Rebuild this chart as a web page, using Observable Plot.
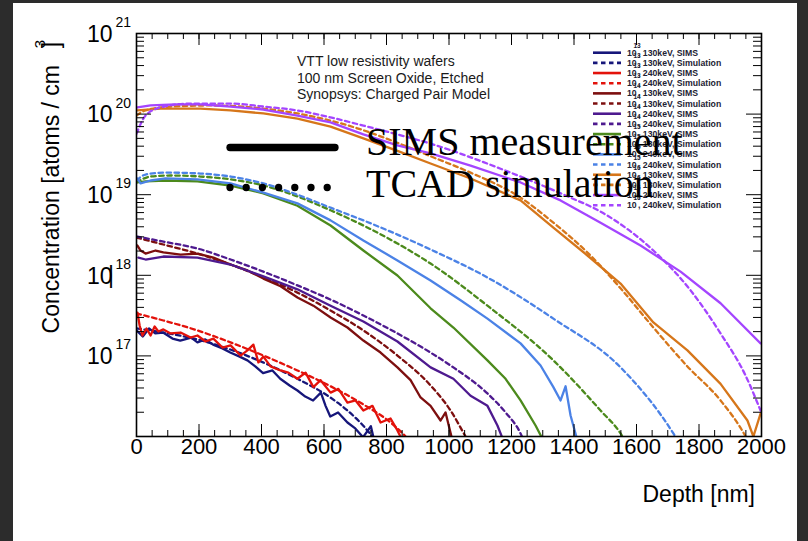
<!DOCTYPE html>
<html><head><meta charset="utf-8">
<script src="https://cdn.jsdelivr.net/npm/d3@7"></script>
<script src="https://cdn.jsdelivr.net/npm/@observablehq/plot@0.6"></script>
<style>
html,body{margin:0;padding:0;background:#fff;width:808px;height:541px;overflow:hidden;}
#wrap{position:relative;width:808px;height:541px;}
.edge{position:absolute;background:#2c2c2c;}
</style></head><body><div id="wrap"></div>
<script>
// ---- data (depth in nm, concentration in atoms/cm^3) ----
const navySimsDepth = [0,20,40,60,85,115,140,175,195,220,245,275,300,330,355,380,405,435,460,490,515,540,565,590,605,620,645,675,700,725,750,765];
const navySimsConc  = [2.07e17,1.74e17,2.19e17,1.9e17,1.95e17,1.64e17,1.55e17,1.69e17,1.47e17,1.6e17,1.38e17,1.24e17,1.1e17,9.8e16,8.8e16,7.4e16,6.1e16,6.6e16,5.2e16,4.3e16,3.72e16,3.13e16,2.8e16,3.5e16,2.4e16,1.77e16,1.99e16,1.49e16,1.26e16,9.8e15,1.34e16,7.5e15];
const navySimDepth = [0,85,195,300,405,515,620,675,725,765];
const navySimConc  = [2.19e17,1.95e17,1.6e17,1.2e17,8.3e16,5.2e16,3.05e16,2.1e16,1.37e16,8.9e15];

const redSimsDepth = [3,10,19,32,45,58,70,86,109,141,173,195,221,246,275,301,333,355,374,390,406,429,461,486,515,541,566,589,621,646,675,701,726,755,781,813,835,851];
const redSimsConc  = [3.45e17,2.38e17,1.79e17,2.19e17,1.79e17,2.32e17,2.01e17,2.13e17,1.9e17,1.95e17,1.69e17,1.79e17,1.51e17,1.64e17,1.27e17,1.35e17,1.01e17,1.17e17,1.38e17,8.3e16,9.8e16,7.4e16,6.6e16,6.2e16,5.2e16,6.2e16,4.1e16,5.0e16,3.5e16,3.9e16,2.64e16,2.8e16,2.1e16,2.4e16,1.49e16,1.67e16,1.19e16,8.9e15];
const redSimDepth = [0,86,195,301,406,515,621,726,813,861,877];
const redSimConc  = [3.36e17,2.75e17,2.07e17,1.47e17,1.01e17,6.6e16,4.2e16,2.5e16,1.49e16,1e16,8.5e15];

const maroonSimsDepth = [3,13,29,61,86,141,195,246,301,355,406,461,515,566,621,675,726,781,835,877,909,941,973,989,1011];
const maroonSimsConc  = [2.34e18,2.03e18,1.86e18,2.03e18,1.92e18,1.81e18,1.86e18,1.66e18,1.36e18,1.15e18,9.1e17,7.3e17,5.3e17,4.2e17,3.0e17,2.25e17,1.55e17,1.1e17,7.2e16,5.0e16,3.05e16,2.4e16,1.58e16,1.99e16,8.9e15];
const maroonSimDepth = [0,86,195,301,406,515,621,726,835,941,1005,1053,1069];
const maroonSimConc  = [2.94e18,2.41e18,1.86e18,1.36e18,9.4e17,6.1e17,3.66e17,2.07e17,1.01e17,4.3e16,2.1e16,1e16,7.8e15];

const indigoSimsDepth = [6,29,86,195,301,406,515,621,726,835,941,1014,1069,1123,1155,1174];
const indigoSimsConc  = [1.66e18,1.57e18,1.71e18,1.66e18,1.36e18,9.7e17,6.7e17,4.2e17,2.67e17,1.51e17,7.2e16,5.2e16,3.2e16,2.4e16,1.37e16,8.9e15];
const indigoSimDepth = [0,86,195,301,406,515,621,726,835,941,1014,1123,1181,1229,1245];
const indigoSimConc  = [3.03e18,2.62e18,2.15e18,1.57e18,1.11e18,7.5e17,5.0e17,3.17e17,1.9e17,1.1e17,7.2e16,3.42e16,1.99e16,1.09e16,7.8e15];

const greenSimsDepth = [3,29,93,195,301,406,515,621,726,835,941,1014,1123,1181,1229,1277,1302];
const greenSimsConc  = [1.42e19,1.46e19,1.5e19,1.46e19,1.3e19,1.04e19,7.3e18,4.15e18,2.03e18,9.95e17,3.9e17,2.25e17,8.8e16,5.2e16,2.8e16,1.37e16,8.9e15];
const greenSimDepth = [0,45,109,205,301,406,515,621,726,835,941,1123,1334,1485,1549,1571];
const greenSimConc  = [1.42e19,1.68e19,1.73e19,1.68e19,1.55e19,1.3e19,9.5e18,6.4e18,4.15e18,2.48e18,1.4e18,4.2e17,8.8e16,2.1e16,1.09e16,7.8e15];

const blueSimsDepth = [3,13,45,93,195,301,406,515,621,726,835,941,1037,1123,1229,1293,1334,1357,1373,1389,1411];
const blueSimsConc  = [1.59e19,1.38e19,1.5e19,1.59e19,1.55e19,1.38e19,1.06e19,7.8e18,4.8e18,2.7e18,1.53e18,8.6e17,4.9e17,2.9e17,1.43e17,7.6e16,4.1e16,2.8e16,4.2e16,1.82e16,8.9e15];
const blueSimDepth = [0,29,93,205,301,406,515,621,726,835,941,1123,1334,1549,1718,1741];
const blueSimConc  = [1.5e19,1.78e19,1.88e19,1.83e19,1.68e19,1.38e19,1.0e19,6.9e18,4.8e18,3.2e18,2.09e18,9.4e17,2.9e17,7.2e16,1.09e16,7.8e15];

const orangeSimsDepth = [3,77,205,301,406,515,621,726,835,941,1069,1229,1334,1443,1549,1654,1763,1869,1955,1974,1997];
const orangeSimsConc  = [1.11e20,1.17e20,1.17e20,1.11e20,1.02e20,8.8e19,7.0e19,5.0e19,3.5e19,2.44e19,1.59e19,8.5e18,3.9e18,1.76e18,7.9e17,2.6e17,1.17e17,4.5e16,1.58e16,1.0e16,1.93e16];
const orangeSimDepth = [0,29,109,237,406,515,621,726,835,941,1069,1229,1334,1443,1549,1654,1763,1869,1949,1971];
const orangeSimConc  = [9.6e19,1.11e20,1.24e20,1.28e20,1.17e20,1.02e20,8.3e19,6.3e19,4.4e19,3.0e19,1.88e19,9.2e18,4.5e18,1.92e18,6.9e17,2.25e17,7.4e16,2.8e16,1e16,6.8e15];

const violetSimsDepth = [3,45,125,205,301,406,515,621,726,835,941,1069,1229,1357,1485,1613,1741,1869,1997];
const violetSimsConc  = [1.21e20,1.28e20,1.32e20,1.32e20,1.24e20,1.14e20,9.6e19,7.9e19,5.6e19,4.1e19,3.25e19,2.3e19,1.42e19,8.5e18,4.5e18,2.34e18,1.11e18,4.5e17,1.43e17];
const violetSimDepth = [0,29,77,173,301,406,515,621,726,835,941,1165,1357,1507,1654,1773,1869,1949,1997];
const violetSimConc  = [5.7e19,9.6e19,1.21e20,1.35e20,1.35e20,1.24e20,1.11e20,9.1e19,7.2e19,5.6e19,4.3e19,2.1e19,1.04e19,5.5e18,2.03e18,6.5e17,1.9e17,5.7e16,2.1e16];

// legend / series description
const legendDose   = ["13","13","13","13","14","14","14","14","15","15","15","15","16","16","16","16"];
const legendEnergy = ["130keV","130keV","240keV","240keV","130keV","130keV","240keV","240keV","130keV","130keV","240keV","240keV","130keV","130keV","240keV","240keV"];
const legendKind   = ["SIMS","Simulation","SIMS","Simulation","SIMS","Simulation","SIMS","Simulation","SIMS","Simulation","SIMS","Simulation","SIMS","Simulation","SIMS","Simulation"];
const seriesColors = ["#16167a","#16167a","#e3120b","#e3120b","#7d0f0f","#7d0f0f","#4e1a8f","#4e1a8f","#4c8a1c","#4c8a1c","#4b82e6","#4b82e6","#d6761a","#d6761a","#a445ff","#a445ff"];

const seriesDepth = [navySimsDepth,navySimDepth,redSimsDepth,redSimDepth,maroonSimsDepth,maroonSimDepth,indigoSimsDepth,indigoSimDepth,greenSimsDepth,greenSimDepth,blueSimsDepth,blueSimDepth,orangeSimsDepth,orangeSimDepth,violetSimsDepth,violetSimDepth];
const seriesConc  = [navySimsConc,navySimConc,redSimsConc,redSimConc,maroonSimsConc,maroonSimConc,indigoSimsConc,indigoSimConc,greenSimsConc,greenSimConc,blueSimsConc,blueSimConc,orangeSimsConc,orangeSimConc,violetSimsConc,violetSimConc];

// axis tick labels
const xTickLabels = [0,200,400,600,800,1000,1200,1400,1600,1800,2000];
const yTickValues = [1e17,1e18,1e19,1e20,1e21];
const yTickExps   = ["17","18","19","20","21"];

const annotationLines = ["VTT low resistivity wafers","100 nm Screen Oxide, Etched","Synopsys: Charged Pair Model"];

// ---- build ----
const seriesKeys = legendDose.map((d,i)=>`10^${d}, ${legendEnergy[i]}, ${legendKind[i]}`);
const rows = [];
seriesKeys.forEach((k,i)=>seriesDepth[i].forEach((d,j)=>rows.push({series:k, depth:d, conc:seriesConc[i][j]})));

const xMinor = d3.range(0,2001,50);
const xMajor = d3.range(0,2001,200);
const yMajor = [1e16,1e17,1e18,1e19,1e20,1e21];
const yMinor = [];
for (let e=16;e<21;e++) for (let m=2;m<10;m++) yMinor.push(m*Math.pow(10,e));

const frameW = 808-136-47, frameH = 541-33-105;

const lineMarks = seriesKeys.map((k,i)=>{
  const sim = legendKind[i]==="Simulation";
  return Plot.line(rows.filter(r=>r.series===k), {
    x:"depth", y:"conc", stroke:"series", strokeWidth: 2.3,
    strokeDasharray: sim ? "4.5,3.5" : null,
    curve: sim ? "monotone-x" : "linear", clip: true
  });
});

const tickStyle = {stroke:"black", strokeWidth:1};
const chart = Plot.plot({
  width: 808, height: 541,
  marginLeft: 136, marginRight: 47, marginTop: 33, marginBottom: 105,
  style: {background:"transparent", fontFamily:"'Liberation Sans', Arial, sans-serif", color:"black", overflow:"visible"},
  x: {domain:[0,2000], axis:null},
  y: {type:"log", domain:[1e16,1e21], axis:null},
  color: {domain: seriesKeys, range: seriesColors},
  marks: [
    ...lineMarks,
    Plot.ruleX(xMinor, {x:d=>d, insetTop: frameH-6, ...tickStyle}),
    Plot.ruleX(xMajor, {x:d=>d, insetTop: frameH-12, ...tickStyle}),
    Plot.ruleX(xMinor, {x:d=>d, insetBottom: frameH-6, ...tickStyle}),
    Plot.ruleX(xMajor, {x:d=>d, insetBottom: frameH-12, ...tickStyle}),
    Plot.ruleY(yMinor, {y:d=>d, insetRight: frameW-8, ...tickStyle}),
    Plot.ruleY(yMajor, {y:d=>d, insetRight: frameW-15, ...tickStyle}),
    Plot.ruleY(yMinor, {y:d=>d, insetLeft: frameW-8, ...tickStyle}),
    Plot.ruleY(yMajor, {y:d=>d, insetLeft: frameW-15, ...tickStyle}),
    Plot.frame({stroke:"black", strokeWidth:1.6}),
    Plot.text(xTickLabels, {x:d=>d, frameAnchor:"bottom", dy:17, text:d=>String(d), fontSize:22, fill:"black"}),
    Plot.text(yTickValues, {y:d=>d, frameAnchor:"left", dx:-24, dy:1, textAnchor:"end", text:()=>"10", fontSize:23, fill:"black"}),
    Plot.text(yTickValues, {y:d=>d, frameAnchor:"left", dx:-21, dy:-11, textAnchor:"start", text:(d,i)=>yTickExps[i], fontSize:14, fill:"black"})
  ]
});

const svg = d3.select(chart);
const g = svg.append("g").attr("font-family","'Liberation Sans', Arial, sans-serif").attr("text-anchor","start");

// y-axis title
g.append("text").attr("transform","translate(59,65) rotate(-90)").attr("text-anchor","end")
  .attr("font-size",23).attr("fill","black").text("Concentration [atoms / cm");
g.append("text").attr("transform","translate(59,45) rotate(-90)").attr("text-anchor","middle")
  .attr("font-size",23).attr("fill","black").text("]");
g.append("text").attr("transform","translate(45,44) rotate(-90)").attr("text-anchor","middle")
  .attr("font-size",15).attr("fill","black").text("3");
// cursor artifact after 10^18
g.append("text").attr("x",108).attr("y",283).attr("font-size",23).attr("fill","black").text("|");

// x-axis title
g.append("text").attr("x",755).attr("y",502).attr("text-anchor","end").attr("font-size",23).attr("fill","black").text("Depth [nm]");

// annotation
annotationLines.forEach((t,i)=>g.append("text").attr("x",297).attr("y",66+i*16.5).attr("font-size",14).attr("fill","#1a1a1a").text(t));

// legend
const lg = g.append("g");
legendDose.forEach((d,i)=>{
  const y = 52.7 + i*10.17;
  lg.append("line").attr("x1",593).attr("x2",621).attr("y1",y).attr("y2",y)
    .attr("stroke",seriesColors[i]).attr("stroke-width",2.6)
    .attr("stroke-dasharray", legendKind[i]==="Simulation" ? "4.5,3.5" : null);
  lg.append("text").attr("x",627).attr("y",y+3).attr("font-size",8.7).attr("font-weight","bold").attr("fill","#222233").text("10");
  lg.append("text").attr("x",633.5).attr("y",y-5).attr("font-size",6.5).attr("font-weight","bold").attr("fill","#222233").text(d);
  lg.append("text").attr("x",638).attr("y",y+3).attr("font-size",8.7).attr("font-weight","bold").attr("fill","#222233").text(`, ${legendEnergy[i]}, ${legendKind[i]}`);
});

// big overlay key
const ov = g.append("g");
ov.append("line").attr("x1",230).attr("x2",335).attr("y1",147.5).attr("y2",147.5).attr("stroke","black").attr("stroke-width",7.3).attr("stroke-linecap","round");
ov.append("line").attr("x1",230).attr("x2",328).attr("y1",187.5).attr("y2",187.5).attr("stroke","black").attr("stroke-width",7.3).attr("stroke-linecap","round").attr("stroke-dasharray","0,16.2");
ov.append("text").attr("x",366).attr("y",155).attr("font-family","'Liberation Serif', 'Times New Roman', serif").attr("font-size",40).attr("fill","black").text("SIMS measurement");
ov.append("text").attr("x",366).attr("y",197).attr("font-family","'Liberation Serif', 'Times New Roman', serif").attr("font-size",40).attr("fill","black").text("TCAD simulation");

const wrap = document.getElementById("wrap");
wrap.appendChild(chart);
chart.style.position = "absolute"; chart.style.left = "0"; chart.style.top = "0";
[[0,0,13,541],[0,0,808,3],[797,0,11,541]].forEach(([l,t,w,h])=>{
  const e = document.createElement("div"); e.className="edge";
  e.style.left=l+"px"; e.style.top=t+"px"; e.style.width=w+"px"; e.style.height=h+"px";
  wrap.appendChild(e);
});
</script></body></html>
